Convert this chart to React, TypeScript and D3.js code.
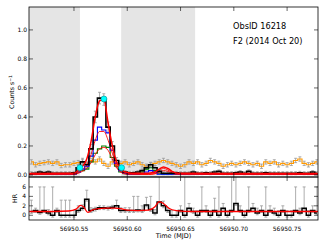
import React from 'react';
import * as d3 from 'd3';

// time grid: 68 bins of 0.004 d starting at binStart
const binStart = 56950.508;
const binWidth = 0.004;

const orangeRate = [
  0.09, 0.07, 0.08, 0.085, 0.09, 0.08, 0.09, 0.065, 0.07, 0.07,
  0.08, 0.085, 0.09, 0.07, 0.10, 0.09, 0.11, 0.08, 0.06, 0.09,
  0.07, 0.08, 0.09, 0.07, 0.08, 0.09, 0.07, 0.06, 0.07, 0.08,
  0.09, 0.10, 0.09, 0.08, 0.07, 0.06, 0.07, 0.09, 0.08, 0.09,
  0.07, 0.08, 0.10, 0.09, 0.08, 0.06, 0.07, 0.08, 0.07, 0.08,
  0.09, 0.08, 0.07, 0.08, 0.06, 0.09, 0.08, 0.09, 0.07, 0.08,
  0.07, 0.08, 0.10, 0.11, 0.08, 0.07, 0.08, 0.09,
];
const orangeErr = 0.015;

const totalRate = [
  0.012, 0.012, 0.02, 0.015, 0.02, 0.012, 0.012, 0.012, 0.012, 0.012,
  0.015, 0.05, 0.09, 0.07, 0.18, 0.40, 0.53, 0.52, 0.33, 0.20,
  0.10, 0.04, 0.02, 0.015, 0.015, 0.02, 0.03, 0.05, 0.07, 0.05,
  0.025, 0.012, 0.012, 0.012, 0.015, 0.012, 0.012, 0.012, 0.02, 0.012,
  0.012, 0.015, 0.012, 0.02, 0.025, 0.012, 0.012, 0.012, 0.015, 0.02,
  0.012, 0.025, 0.012, 0.012, 0.012, 0.015, 0.012, 0.012, 0.012, 0.012,
  0.012, 0.012, 0.012, 0.015, 0.012, 0.012, 0.02, 0.012,
];
const totalErr = [
  0.01, 0.01, 0.01, 0.01, 0.01, 0.01, 0.01, 0.01, 0.01, 0.01,
  0.01, 0.02, 0.025, 0.025, 0.03, 0.04, 0.04, 0.04, 0.035, 0.03,
  0.02, 0.015, 0.01, 0.01, 0.01, 0.01, 0.012, 0.015, 0.018, 0.015,
  0.01, 0.01, 0.01, 0.01, 0.01, 0.01, 0.01, 0.01, 0.01, 0.01,
  0.01, 0.01, 0.01, 0.01, 0.01, 0.01, 0.01, 0.01, 0.01, 0.01,
  0.01, 0.01, 0.01, 0.01, 0.01, 0.01, 0.01, 0.01, 0.01, 0.01,
  0.01, 0.01, 0.01, 0.01, 0.01, 0.01, 0.01, 0.01,
];
const hardRate = [
  0.005, 0.005, 0.005, 0.005, 0.005, 0.005, 0.005, 0.005, 0.005, 0.005,
  0.005, 0.02, 0.04, 0.06, 0.13, 0.24, 0.33, 0.31, 0.29, 0.17,
  0.08, 0.03, 0.01, 0.005, 0.005, 0.005, 0.01, 0.02, 0.03, 0.02,
  0.005, 0.005, 0.005, 0.005, 0.005, 0.005, 0.005, 0.005, 0.005, 0.005,
  0.005, 0.005, 0.005, 0.005, 0.005, 0.005, 0.005, 0.005, 0.005, 0.005,
  0.005, 0.005, 0.005, 0.005, 0.005, 0.005, 0.005, 0.005, 0.005, 0.005,
  0.005, 0.005, 0.005, 0.005, 0.005, 0.005, 0.005, 0.005,
];
const softRate = [
  0.005, 0.005, 0.005, 0.005, 0.005, 0.005, 0.005, 0.005, 0.005, 0.005,
  0.005, 0.02, 0.03, 0.04, 0.09, 0.15, 0.18, 0.20, 0.19, 0.12,
  0.06, 0.02, 0.008, 0.005, 0.005, 0.005, 0.02, 0.04, 0.05, 0.03,
  0.008, 0.005, 0.005, 0.005, 0.005, 0.005, 0.005, 0.005, 0.005, 0.005,
  0.005, 0.005, 0.005, 0.005, 0.005, 0.005, 0.005, 0.005, 0.005, 0.005,
  0.005, 0.005, 0.005, 0.005, 0.005, 0.005, 0.005, 0.005, 0.005, 0.005,
  0.005, 0.005, 0.005, 0.005, 0.005, 0.005, 0.005, 0.005,
];

// model curves (red)
const modelTime = [
  56950.508, 56950.550, 56950.554, 56950.558, 56950.562, 56950.566, 56950.570, 56950.574,
  56950.578, 56950.582, 56950.586, 56950.590, 56950.594, 56950.598, 56950.604, 56950.620,
  56950.626, 56950.630, 56950.634, 56950.638, 56950.642, 56950.648, 56950.700, 56950.779,
];
const modelTotal = [
  0.01, 0.012, 0.03, 0.06, 0.11, 0.23, 0.40, 0.51, 0.52, 0.36, 0.20, 0.09,
  0.04, 0.02, 0.012, 0.012, 0.02, 0.04, 0.055, 0.045, 0.025, 0.012, 0.01, 0.01,
];
const modelHard = [
  0.003, 0.004, 0.015, 0.035, 0.07, 0.14, 0.24, 0.30, 0.30, 0.24, 0.15, 0.06,
  0.02, 0.008, 0.004, 0.004, 0.008, 0.02, 0.03, 0.025, 0.01, 0.004, 0.003, 0.003,
];
const modelSoft = [
  0.003, 0.004, 0.012, 0.025, 0.045, 0.085, 0.14, 0.18, 0.19, 0.17, 0.11, 0.05,
  0.02, 0.008, 0.004, 0.004, 0.01, 0.03, 0.045, 0.035, 0.015, 0.004, 0.003, 0.003,
];

const markTime = [56950.5556, 56950.5781, 56950.5947];
const markRate = [0.05, 0.524, 0.05];

const shadeStart = [56950.50, 56950.5943];
const shadeEnd = [56950.5556, 56950.6637];

const hardness = [
  0.8, 1.0, 0.6, 1.0, 0.5, 0.0, 1.0, 0.0, 0.0, 0.0,
  0.0, 1.0, 1.5, 3.4, 1.0, 1.3, 1.6, 1.6, 1.5, 1.7,
  2.0, 1.0, 1.0, 1.0, 1.0, 1.1, 1.0, 2.2, 1.2, 0.5,
  2.8, 2.0, 1.0, 0.0, 0.0, 1.0, 0.0, 1.5, 0.8, 0.0,
  1.0, 1.0, 0.0, 1.0, 0.0, 1.5, 0.0, 1.0, 2.5, 1.0,
  0.0, 1.0, 1.5, 0.5, 1.0, 0.0, 1.0, 0.5, 0.0, 1.0,
  0.0, 0.0, 1.0, 0.5, 1.5, 0.0, 1.0, 0.5,
];
const hardnessErr = [
  2.4, 0.5, 5.4, 5.0, 0.7, 6.0, 0.5, 3.2, 3.2, 3.2,
  1.0, 1.0, 0.7, 1.9, 0.6, 0.4, 0.4, 0.4, 0.4, 0.4,
  1.2, 0.6, 0.6, 0.6, 3.0, 2.9, 1.0, 1.6, 2.8, 0.7,
  5.7, 1.0, 0.6, 1.0, 1.0, 1.0, 8.5, 1.0, 0.7, 1.0,
  5.0, 1.0, 1.0, 2.6, 6.0, 1.0, 1.0, 7.5, 6.0, 1.0,
  1.0, 5.0, 1.0, 1.0, 1.0, 6.0, 1.0, 1.0, 1.0, 1.0,
  1.0, 1.0, 5.0, 1.0, 4.5, 1.0, 1.0, 5.5,
];
const hardnessLoErr = 0.4;

const hrModelTime = [
  56950.508, 56950.530, 56950.545, 56950.552, 56950.556, 56950.559, 56950.563, 56950.567,
  56950.573, 56950.580, 56950.588, 56950.594, 56950.600, 56950.610, 56950.620, 56950.626,
  56950.630, 56950.634, 56950.639, 56950.646, 56950.660, 56950.700, 56950.779,
];
const hrModel = [
  0.8, 0.8, 0.9, 1.3, 2.1, 1.8, 0.6, 1.1, 1.4, 1.5, 1.5, 1.4, 1.1,
  1.0, 1.1, 1.8, 2.9, 2.5, 1.5, 1.0, 0.8, 0.8, 0.8,
];

const xTicks = [56950.55, 56950.6, 56950.65, 56950.7, 56950.75];
const xTickLabels = ['56950.55', '56950.60', '56950.65', '56950.70', '56950.75'];
const rateTicks = [0, 0.2, 0.4, 0.6, 0.8, 1.0];
const rateTickLabels = ['0.0', '0.2', '0.4', '0.6', '0.8', '1.0'];
const hrTicks = [0, 2, 4, 6];

const W = 325;
const H = 245;
const left = 29;
const right = 318;
const top1 = 7;
const bot1 = 177;
const bot2 = 220;
const font = 'DejaVu Sans, sans-serif';

const App = () => {
  const x = d3.scaleLinear().domain([56950.5078, 56950.779]).range([left, right]);
  const y = d3.scaleLinear().domain([-0.014, 1.158]).range([bot1, top1]);
  const yh = d3.scaleLinear().domain([-1, 8.1]).range([bot2, bot1]);

  const centers = orangeRate.map((_, i) => binStart + binWidth * (i + 0.5));

  const stepLine = (vals: number[], sy: any) =>
    d3.line<number>()
      .x((_, i) => x(centers[i]))
      .y((d) => sy(d))
      .curve(d3.curveStep)(vals) || '';

  const smooth = (ts: number[], vals: number[], sy: any) =>
    d3.line<number>()
      .x((_, i) => x(ts[i]))
      .y((d) => sy(d))
      .curve(d3.curveMonotoneX)(vals) || '';

  const errBars = (vals: number[], lo: (i: number) => number, hi: (i: number) => number, sy: any, color: string, key: string) =>
    vals.map((v, i) => {
      const cx = x(centers[i]);
      const y1 = sy(v + hi(i));
      const y2 = sy(v - lo(i));
      return (
        <g key={key + i} stroke={color} strokeWidth={0.8}>
          <line x1={cx} x2={cx} y1={y1} y2={y2} />
          <line x1={cx - 1.5} x2={cx + 1.5} y1={y1} y2={y1} />
          <line x1={cx - 1.5} x2={cx + 1.5} y1={y2} y2={y2} />
        </g>
      );
    });

  const tickLen = 4;

  return (
    <svg width={W} height={H} style={{ position: 'absolute', left: 0, top: 0, background: '#fff' }}>
      <defs>
        <clipPath id="c1"><rect x={left} y={top1} width={right - left} height={bot1 - top1} /></clipPath>
        <clipPath id="c2"><rect x={left} y={bot1} width={right - left} height={bot2 - bot1} /></clipPath>
      </defs>

      {/* top panel */}
      <g clipPath="url(#c1)">
        {shadeStart.map((s, i) => (
          <rect key={'sh' + i} x={x(s)} y={top1} width={x(shadeEnd[i]) - x(s)} height={bot1 - top1} fill="#e5e5e5" />
        ))}
        {errBars(orangeRate, () => orangeErr, () => orangeErr, y, '#999', 'oe')}
        <path d={stepLine(orangeRate, y)} fill="none" stroke="#ff9900" strokeWidth={1.1} />
        {errBars(totalRate, (i) => totalErr[i], (i) => totalErr[i], y, '#999', 'te')}
        <path d={stepLine(softRate, y)} fill="none" stroke="#008000" strokeWidth={1.1} />
        <path d={smooth(modelTime, modelSoft, y)} fill="none" stroke="#ff0000" strokeWidth={0.9} />
        <path d={stepLine(hardRate, y)} fill="none" stroke="#0000ff" strokeWidth={1.1} />
        <path d={smooth(modelTime, modelHard, y)} fill="none" stroke="#ff0000" strokeWidth={0.9} />
        <path d={stepLine(totalRate, y)} fill="none" stroke="#000" strokeWidth={1.6} />
        <path d={smooth(modelTime, modelTotal, y)} fill="none" stroke="#ff0000" strokeWidth={1.5} />
        {markTime.map((t, i) => (
          <circle key={'m' + i} cx={x(t)} cy={y(markRate[i])} r={3} fill="#00ffff" stroke="#008b8b" strokeWidth={0.6} />
        ))}
      </g>

      {/* bottom panel */}
      <g clipPath="url(#c2)">
        {errBars(hardness, () => hardnessLoErr, (i) => hardnessErr[i], yh, '#999', 'he')}
        <path d={stepLine(hardness, yh)} fill="none" stroke="#000" strokeWidth={1.5} />
        <path d={smooth(hrModelTime, hrModel, yh)} fill="none" stroke="#ff0000" strokeWidth={1.3} />
      </g>

      {/* frames */}
      <rect x={left} y={top1} width={right - left} height={bot1 - top1} fill="none" stroke="#000" strokeWidth={0.8} />
      <rect x={left} y={bot1} width={right - left} height={bot2 - bot1} fill="none" stroke="#000" strokeWidth={0.8} />

      {/* x ticks */}
      {xTicks.map((t, i) => (
        <g key={'xt' + i} stroke="#000" strokeWidth={0.6}>
          <line x1={x(t)} x2={x(t)} y1={top1} y2={top1 + tickLen} />
          <line x1={x(t)} x2={x(t)} y1={bot1} y2={bot1 - tickLen} />
          <line x1={x(t)} x2={x(t)} y1={bot1} y2={bot1 + tickLen} />
          <line x1={x(t)} x2={x(t)} y1={bot2} y2={bot2 - tickLen} />
        </g>
      ))}
      {xTicks.map((t, i) => (
        <text key={'xl' + i} x={x(t)} y={bot2 + 11} fontSize={6} fontFamily={font} textAnchor="middle">
          {xTickLabels[i]}
        </text>
      ))}

      {/* y ticks top */}
      {rateTicks.map((v, i) => (
        <g key={'yt' + i}>
          <line x1={left} x2={left + tickLen} y1={y(v)} y2={y(v)} stroke="#000" strokeWidth={0.6} />
          <line x1={right} x2={right - tickLen} y1={y(v)} y2={y(v)} stroke="#000" strokeWidth={0.6} />
          <text x={left - 2} y={y(v) + 2} fontSize={6} fontFamily={font} textAnchor="end">
            {rateTickLabels[i]}
          </text>
        </g>
      ))}

      {/* y ticks bottom */}
      {hrTicks.map((v, i) => (
        <g key={'ht' + i}>
          <line x1={left} x2={left + tickLen} y1={yh(v)} y2={yh(v)} stroke="#000" strokeWidth={0.6} />
          <line x1={right} x2={right - tickLen} y1={yh(v)} y2={yh(v)} stroke="#000" strokeWidth={0.6} />
          <text x={left - 3} y={yh(v) + 2} fontSize={6} fontFamily={font} textAnchor="end">
            {v}
          </text>
        </g>
      ))}

      {/* labels */}
      <text transform={`translate(14,${(top1 + bot1) / 2}) rotate(-90)`} fontSize={6.3} fontFamily={font} textAnchor="middle">
        Counts s<tspan dy={-2} fontSize={4.5}>−1</tspan>
      </text>
      <text transform={`translate(17,${(bot1 + bot2) / 2}) rotate(-90)`} fontSize={6.3} fontFamily={font} textAnchor="middle">
        HR
      </text>
      <text x={(left + right) / 2} y={238} fontSize={6.5} fontFamily={font} textAnchor="middle">
        Time (MJD)
      </text>
      <text x={233} y={29} fontSize={8.2} fontFamily={font}>ObsID 16218</text>
      <text x={233} y={44} fontSize={8.2} fontFamily={font}>F2 (2014 Oct 20)</text>
    </svg>
  );
};

export default App;
